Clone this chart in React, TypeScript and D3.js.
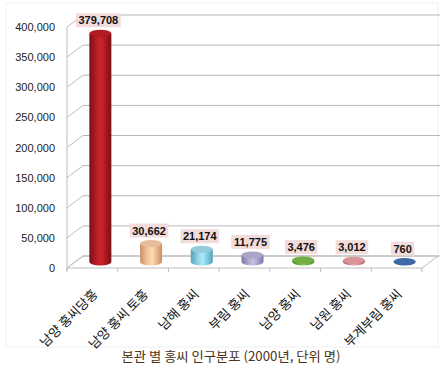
import React from "react";
import * as d3 from "d3";

const categories = ["남양 홍씨당홍", "남양 홍씨 토홍", "남해 홍씨", "부림 홍씨", "남양 홍씨", "남원 홍씨", "부계부림 홍씨"];
const values = [379708, 30662, 21174, 11775, 3476, 3012, 760];
const colors = ["#bb1f27", "#f6c7a2", "#9ad6e6", "#b4afd2", "#79b74a", "#d9959a", "#3f6aa9"];
const darkColors = ["#7a0f15", "#c98f63", "#4fa3bb", "#7c76a6", "#4c8a26", "#a95d63", "#223f75"];
const yTicks = [0, 50000, 100000, 150000, 200000, 250000, 300000, 350000, 400000];
const caption = "본관 별 홍씨 인구분포 (2000년, 단위 명)";

const W = 444, H = 374;
const DX = 16, DY = -12;

export default function App() {
  const x = d3.scaleBand<string>().domain(categories).range([67, 422]).paddingInner(0).paddingOuter(0);
  const y = d3.scaleLinear().domain([0, 400000]).range([268, 27]);
  const fmt = d3.format(",");
  const bw = 22;
  const ry = 3.5;

  return (
    <svg width={W} height={H} style={{ position: "absolute", left: 0, top: 0, background: "#fff" }}
      fontFamily="'Liberation Sans', Arial, sans-serif">
      <defs>
        {colors.map((c, i) => (
          <linearGradient key={i} id={`g${i}`} x1="0" x2="1" y1="0" y2="0">
            <stop offset="0%" stopColor={darkColors[i]} />
            <stop offset="35%" stopColor={c} />
            <stop offset="55%" stopColor={d3.color(c)!.brighter(0.25).toString()} />
            <stop offset="100%" stopColor={darkColors[i]} />
          </linearGradient>
        ))}
      </defs>
      <rect x={6} y={3} width={432} height={344} fill="none" stroke="#f0f0f0" />
      {/* floor */}
      <path d={`M${67},${y(0)} L${422},${y(0)} L${422 + DX},${y(0) + DY} L${67 + DX},${y(0) + DY} Z`}
        fill="none" stroke="#bdbdbd" strokeWidth={1} />
      {/* grid lines */}
      {yTicks.map((t) => (
        <g key={t}>
          <line x1={67} y1={y(t)} x2={67 + DX} y2={y(t) + DY} stroke="#bdbdbd" />
          <line x1={67 + DX} y1={y(t) + DY} x2={440} y2={y(t) + DY} stroke="#b8b8b8" />
          <text x={55} y={y(t) + 4} textAnchor="end" fontSize={11} fill="#222">{fmt(t)}</text>
        </g>
      ))}
      <line x1={67} y1={y(400000)} x2={67} y2={y(0) + 3} stroke="#bdbdbd" />
      {categories.map((c) => {
        const tx = (x(c) as number) + x.bandwidth();
        return <line key={c} x1={tx} y1={y(0)} x2={tx} y2={y(0) + 4} stroke="#bdbdbd" />;
      })}
      <line x1={67} y1={y(0)} x2={67} y2={y(0) + 4} stroke="#bdbdbd" />
      {/* bars */}
      {categories.map((c, i) => {
        const cx = (x(c) as number) + x.bandwidth() / 2 + DX / 2;
        const base = y(0) + DY / 2;
        const top = y(values[i]) + DY / 2;
        const h = base - top;
        return (
          <g key={c}>
            <path d={`M${cx - bw / 2},${top} L${cx - bw / 2},${base} A${bw / 2},${ry} 0 0 0 ${cx + bw / 2},${base} L${cx + bw / 2},${top} Z`}
              fill={`url(#g${i})`} />
            <ellipse cx={cx} cy={top} rx={bw / 2} ry={ry}
              fill={h < 2 ? colors[i] : d3.color(colors[i])!.darker(0.15).toString()} />
          </g>
        );
      })}
      {/* data labels */}
      {categories.map((c, i) => {
        const cx = (x(c) as number) + x.bandwidth() / 2 + DX / 2 - 2;
        const top = y(values[i]) + DY / 2;
        const s = fmt(values[i]);
        const digits = s.replace(/,/g, "").length;
        const commas = s.length - digits;
        const w = digits * 6.1 + commas * 3.1 + 5;
        const cy = top - 13;
        return (
          <g key={c}>
            <rect x={cx - w / 2} y={cy - 7} width={w} height={14} fill="#f2dcdb" />
            <text x={cx} y={cy + 4} textAnchor="middle" fontSize={11} fontWeight="bold" fill="#111">{s}</text>
          </g>
        );
      })}
      {/* category labels */}
      {categories.map((c) => {
        const tx = (x(c) as number) + x.bandwidth() / 2 + 6;
        const ty = 295;
        return (
          <text key={c} x={tx} y={ty} transform={`rotate(-45 ${tx} ${ty})`} textAnchor="end"
            fontSize={13} fontFamily="'Noto Sans CJK KR', sans-serif" fill="#111">{c}</text>
        );
      })}
      <text x={231} y={361} textAnchor="middle" fontSize={13} fill="#4d3319"
        fontFamily="'Noto Sans CJK KR', sans-serif" textLength={219} lengthAdjust="spacingAndGlyphs">{caption}</text>
    </svg>
  );
}
